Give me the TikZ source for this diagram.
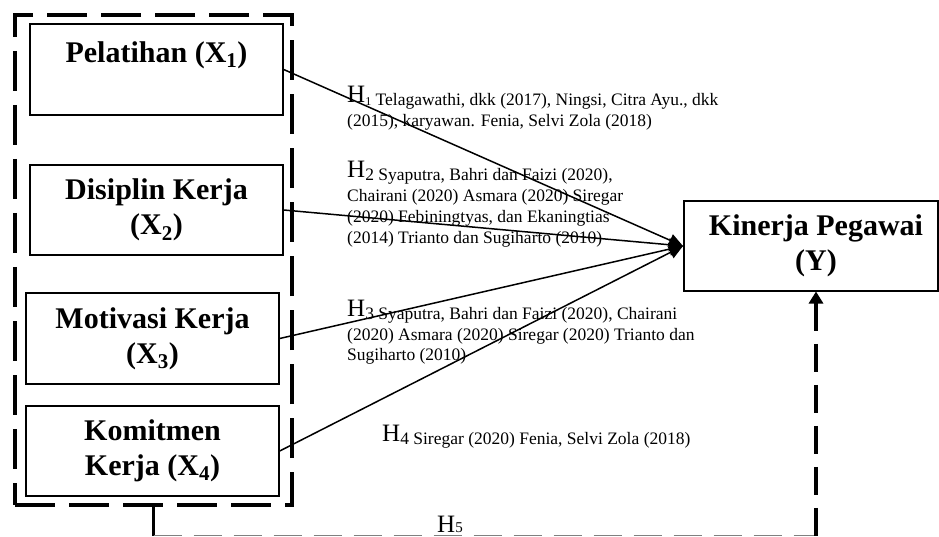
\documentclass[tikz,border=0pt]{standalone}
\usepackage{fontspec}
\setmainfont{Liberation Serif}
\usetikzlibrary{arrows.meta}
\newcommand\Hmark[1]{\raisebox{3pt}{\fontsize{25}{25}\selectfont H}#1}
\begin{document}
\begin{tikzpicture}[x=1pt,y=-1pt,
  varbox/.style={draw, line width=1.4pt, minimum width=253pt, minimum height=90pt,
    align=center, inner sep=0pt, font=\fontsize{30}{35}\selectfont\bfseries},
  hyplink/.style={line width=1.5pt, -{Triangle[length=14pt,width=13pt]}},
  hyplabel/.style={anchor=base west, inner sep=0pt, font=\fontsize{17.5}{20.7}\selectfont},
]
\useasboundingbox (0,0) rectangle (939,537);

% group box
\node[draw, line width=4pt, dash pattern=on 40pt off 14pt, minimum width=277pt,
      minimum height=490pt, inner sep=0pt] (grp) at (153.5,260) {};

% variable boxes
\node[varbox, minimum height=91pt] (x1) at (156.5,69.5) {Pelatihan (X\textsubscript{1})\\ \mbox{}};
\node[varbox] (x2) at (156.5,210) {Disiplin Kerja\\(X\textsubscript{2})};
\node[varbox, minimum height=91pt] (x3) at (152.5,338.5) {Motivasi Kerja\\(X\textsubscript{3})};
\node[varbox] (x4) at (152.5,451) {Komitmen\\Kerja (X\textsubscript{4})};
\node[varbox, line width=2pt, minimum width=254pt, minimum height=89pt] (ky) at (811,246)
  {\hspace*{10pt}Kinerja Pegawai\\\hspace*{10pt}(Y)};

% hypothesis links
\draw[hyplink] (x1.east) -- (ky.west);
\draw[hyplink] (x2.east) -- (ky.west);
\draw[hyplink] (x3.east) -- (ky.west);
\draw[hyplink] (x4.east) -- (ky.west);

% labels
\node[hyplabel] (h1) at (347,106) {\begin{tabular}[t]{@{}l@{}}
\Hmark{{\fontsize{12}{12}\selectfont 1}} Telagawathi, dkk (2017), Ningsi, Citra Ayu., dkk\\
(2015), karyawan. Fenia, Selvi Zola (2018)\end{tabular}};
\node[hyplabel] (h2) at (347,181) {\begin{tabular}[t]{@{}l@{}}
\Hmark{2} Syaputra, Bahri dan Faizi (2020),\\
Chairani (2020) Asmara (2020) Siregar\\
(2020) Febiningtyas, dan Ekaningtias\\
(2014) Trianto dan Sugiharto (2010)\end{tabular}};
\node[hyplabel] (h3) at (347,319.5) {\begin{tabular}[t]{@{}l@{}}
\Hmark{3} Syaputra, Bahri dan Faizi (2020), Chairani\\
(2020) Asmara (2020) Siregar (2020) Trianto dan\\
Sugiharto (2010)\end{tabular}};
\node[hyplabel] (h4) at (382,444) {\Hmark{4} Siregar (2020) Fenia, Selvi Zola (2018)};
\node[anchor=base west, inner sep=0pt] (h5) at (437,532)
  {{\fontsize{25}{25}\selectfont H}{\fontsize{15}{15}\selectfont 5}};

% H5 path
\coordinate (hb) at (153.5,535.5);
\coordinate (hr) at (816,535.5);
\draw[line width=3pt] (grp.south) -- (hb);
\draw[gray, line width=1.3pt, dash pattern=on 28pt off 12pt] (hb) -- (hr);
\draw[line width=3.5pt, dash pattern=on 28pt off 13pt, {Triangle[length=12pt,width=14pt]}-]
  (hr |- ky.south) -- (hr);
\end{tikzpicture}
\end{document}
